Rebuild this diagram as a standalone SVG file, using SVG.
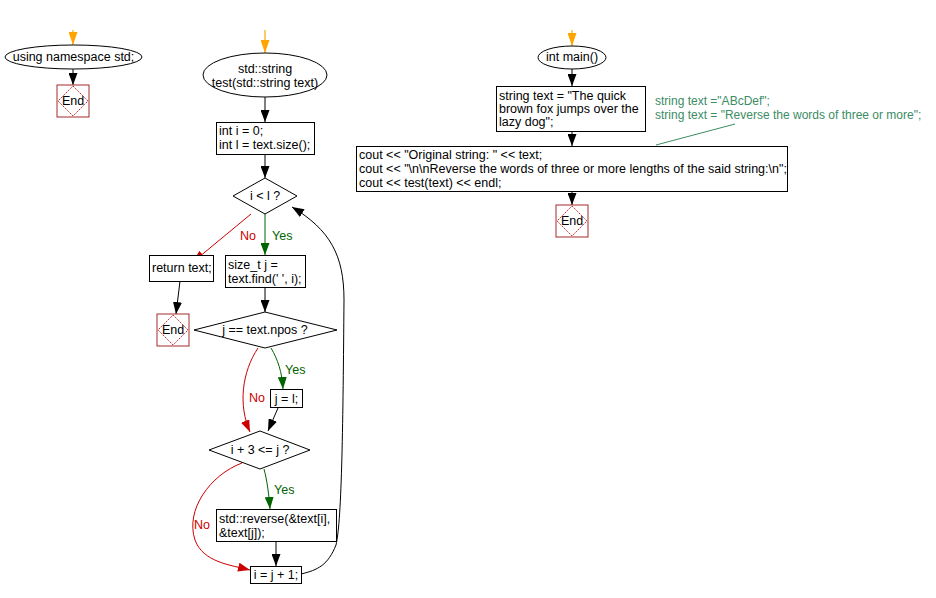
<svg xmlns="http://www.w3.org/2000/svg" width="936" height="598" viewBox="0 0 936 598">
<defs>
<style>
text{font-family:"Liberation Sans",Arial,sans-serif;font-size:12.5px;fill:#000}
.c{text-anchor:middle}
.shape{fill:#fff;stroke:#000;stroke-width:1}
.endb{fill:#fff;stroke:#a52a2a;stroke-width:1}
.endd{fill:none;stroke:#cc2222;stroke-width:1;stroke-dasharray:1.5,1}
.e{fill:none;stroke:#000;stroke-width:1}
.o{fill:none;stroke:#ffa500;stroke-width:1.2}
.y{fill:none;stroke:#006400;stroke-width:1}
.n{fill:none;stroke:#cc0000;stroke-width:1}
.yt{fill:#006400}
.nt{fill:#cc0000}
.cm{fill:#3c8c64;font-size:12px}
</style>
<marker id="ab" viewBox="0 0 10 10" refX="10" refY="5" markerWidth="12" markerHeight="9" orient="auto" markerUnits="userSpaceOnUse" preserveAspectRatio="none"><path d="M0,0 L10,5 L0,10 z" fill="#000"/></marker>
<marker id="ao" viewBox="0 0 10 10" refX="10" refY="5" markerWidth="13" markerHeight="9" orient="auto" markerUnits="userSpaceOnUse" preserveAspectRatio="none"><path d="M0,0 L10,5 L0,10 z" fill="#ffa500"/></marker>
<marker id="ag" viewBox="0 0 10 10" refX="10" refY="5" markerWidth="12" markerHeight="9" orient="auto" markerUnits="userSpaceOnUse" preserveAspectRatio="none"><path d="M0,0 L10,5 L0,10 z" fill="#006400"/></marker>
<marker id="ar" viewBox="0 0 10 10" refX="10" refY="5" markerWidth="12" markerHeight="9" orient="auto" markerUnits="userSpaceOnUse" preserveAspectRatio="none"><path d="M0,0 L10,5 L0,10 z" fill="#cc0000"/></marker>
</defs>
<rect width="936" height="598" fill="#fff"/>

<g id="connectors">
<path class="o" d="M73,30 V45" marker-end="url(#ao)"/>
<path class="e" d="M73,69 V85" marker-end="url(#ab)"/>
<path class="o" d="M265,30 V53" marker-end="url(#ao)"/>
<path class="e" d="M265,97 V122" marker-end="url(#ab)"/>
<path class="e" d="M265,154 V178" marker-end="url(#ab)"/>
<path class="n" d="M251,214 L193,262" marker-end="url(#ar)"/>
<path class="y" d="M265,214 V255" marker-end="url(#ag)"/>
<path class="e" d="M180,281 L176,314" marker-end="url(#ab)"/>
<path class="e" d="M265,287 V312" marker-end="url(#ab)"/>
<path class="y" d="M271,348 C278,360 282,372 283,389" marker-end="url(#ag)"/>
<path class="n" d="M258,348 C242,372 238,405 250,432" marker-end="url(#ar)"/>
<path class="e" d="M278,408 L268,431" marker-end="url(#ab)"/>
<path class="y" d="M264,469 C267,480 269,495 270,509" marker-end="url(#ag)"/>
<path class="n" d="M242,463 C210,475 185,510 195,540 C203,562 230,565 250,570" marker-end="url(#ar)"/>
<path class="e" d="M276,542 V566" marker-end="url(#ab)"/>
<path class="e" d="M301,574 C318,570 328,565 336,545 C342,520 343,420 344,300 C344,255 330,230 292,207" marker-end="url(#ab)"/>
<path class="o" d="M572,30 V46" marker-end="url(#ao)"/>
<path class="e" d="M572,69 V86" marker-end="url(#ab)"/>
<path class="e" d="M572,131 V146" marker-end="url(#ab)"/>
<path class="e" d="M572,191 V205" marker-end="url(#ab)"/>
<path d="M735,124 L656,145" fill="none" stroke="#3c8c64" stroke-width="1"/>
</g>
<g id="labels">
<text x="240" y="240" class="nt">No</text>
<text x="272" y="240" class="yt">Yes</text>
<text x="285" y="374" class="yt">Yes</text>
<text x="249" y="402" class="nt">No</text>
<text x="274" y="494" class="yt">Yes</text>
<text x="194" y="529" class="nt">No</text>
</g>

<g id="n_using">
<ellipse class="shape" cx="73.5" cy="57" rx="68.5" ry="12"/>
<text x="73.5" y="61" class="c">using namespace std;</text>
</g>
<g id="n_end1">
<rect class="endb" x="57" y="85" width="32" height="32"/>
<path class="endd" d="M73,86 L88,101 L73,116 L58,101 z"/>
<text x="73" y="105" class="c">End</text>
</g>

<g id="n_test">
<ellipse class="shape" cx="265" cy="75" rx="62" ry="22"/>
<text x="265" y="73" class="c">std::string</text>
<text x="265" y="87" class="c">test(std::string text)</text>
</g>
<g id="n_init">
<rect class="shape" x="216.5" y="122.5" width="98" height="32"/>
<text x="219" y="135">int i = 0;</text>
<text x="219" y="149">int l = text.size();</text>
</g>
<g id="n_cond1">
<path class="shape" d="M265,178 L297,196 L265,214 L233,196 z"/>
<text x="265" y="200" class="c">i &lt; l ?</text>
</g>
<g id="n_return">
<rect class="shape" x="149.5" y="255.5" width="64" height="26"/>
<text x="152" y="272">return text;</text>
</g>
<g id="n_end2">
<rect class="endb" x="157" y="314" width="32" height="32"/>
<path class="endd" d="M173,315 L188,330 L173,345 L158,330 z"/>
<text x="173" y="334" class="c">End</text>
</g>
<g id="n_find">
<rect class="shape" x="225.5" y="255.5" width="80" height="32"/>
<text x="228" y="269">size_t j =</text>
<text x="228" y="283">text.find(' ', i);</text>
</g>
<g id="n_cond2">
<path class="shape" d="M265,312 L337,330 L265,348 L194,330 z"/>
<text x="265" y="334" class="c">j == text.npos ?</text>
</g>
<g id="n_jl">
<rect class="shape" x="270.5" y="389.5" width="32" height="18"/>
<text x="286.5" y="403" class="c">j = l;</text>
</g>
<g id="n_cond3">
<path class="shape" d="M260,431 L310,450 L260,469 L209,450 z"/>
<text x="260" y="454" class="c">i + 3 &lt;= j ?</text>
</g>
<g id="n_reverse">
<rect class="shape" x="216.5" y="509.5" width="120" height="32"/>
<text x="219" y="523">std::reverse(&amp;text[i],</text>
<text x="219" y="537">&amp;text[j]);</text>
</g>
<g id="n_inc">
<rect class="shape" x="250.5" y="566.5" width="51" height="17"/>
<text x="276" y="579" class="c">i = j + 1;</text>
</g>

<g id="n_main">
<ellipse class="shape" cx="572" cy="57.5" rx="34" ry="11.5"/>
<text x="572" y="61" class="c">int main()</text>
</g>
<g id="n_str">
<rect class="shape" x="496.5" y="86.5" width="149" height="45"/>
<text x="499" y="100">string text = "The quick</text>
<text x="499" y="113">brown fox jumps over the</text>
<text x="499" y="126">lazy dog";</text>
</g>
<g id="n_comment">
<text x="655" y="105" class="cm">string text ="ABcDef";</text>
<text x="655" y="119" class="cm">string text = "Reverse the words of three or more";</text>
</g>
<g id="n_cout">
<rect class="shape" x="356.5" y="146.5" width="431" height="45"/>
<text x="359" y="159">cout &lt;&lt; "Original string: " &lt;&lt; text;</text>
<text x="359" y="173">cout &lt;&lt; "\n\nReverse the words of three or more lengths of the said string:\n";</text>
<text x="359" y="187">cout &lt;&lt; test(text) &lt;&lt; endl;</text>
</g>
<g id="n_end3">
<rect class="endb" x="556" y="205" width="32" height="32"/>
<path class="endd" d="M572,206 L587,221 L572,236 L557,221 z"/>
<text x="572" y="225" class="c">End</text>
</g>
</svg>
